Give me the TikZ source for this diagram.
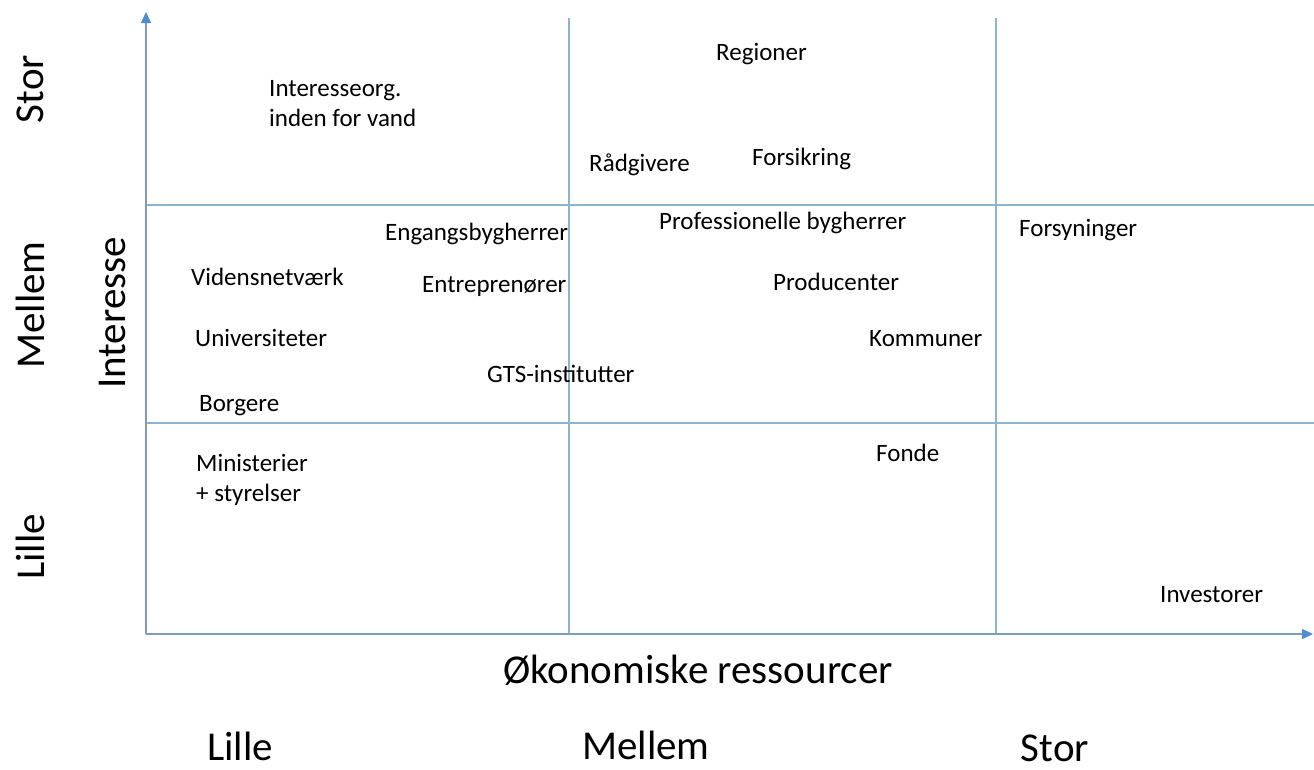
\documentclass[tikz,border=0pt]{standalone}
\usepackage{fontspec}
\setmainfont{Carlito}
\usetikzlibrary{arrows.meta}
\definecolor{gridblue}{HTML}{8DB3D3}
\definecolor{axisgray}{HTML}{7F9DB5}
\definecolor{tipblue}{HTML}{4A8FD6}
\tikzset{
  lbl/.style={anchor=west, inner sep=0pt, font=\fontsize{25}{30}\selectfont, align=left},
  big/.style={inner sep=0pt, font=\fontsize{41}{48}\selectfont},
  gridline/.style={draw=gridblue, line width=1.2pt},
  axis/.style={draw=axisgray, line width=1.4pt, -{Triangle[length=11pt,width=10pt,fill=tipblue,color=tipblue]}},
}
\begin{document}
\begin{tikzpicture}[x=1pt,y=-1pt]
\useasboundingbox (0,0) rectangle (1314,769);
% origin and axis ends
\coordinate (o) at (146,634);
\coordinate (ytop) at (146,12);
\coordinate (xend) at (1313,634);
% grid
\coordinate (v1t) at (569,18);  \coordinate (v1b) at (569,634);
\coordinate (v2t) at (996,18);  \coordinate (v2b) at (996,634);
\coordinate (h1l) at (146,205); \coordinate (h1r) at (1314,205);
\coordinate (h2l) at (146,423); \coordinate (h2r) at (1314,423);
\draw[gridline] (v1t) -- (v1b);
\draw[gridline] (v2t) -- (v2b);
\draw[gridline] (h1l) -- (h1r);
\draw[gridline] (h2l) -- (h2r);
\draw[axis] (o) -- (ytop);
\draw[axis] (o) -- (xend);
% axis titles
\node[big] (xt) at (698,670) {Økonomiske ressourcer};
\node[big] (xl) at (240,746) {Lille};
\node[big] (xm) at (646,745) {Mellem};
\node[big] (xs) at (1055,748) {Stor};
\node[big, rotate=90] (yt) at (112,313) {Interesse};
\node[big, rotate=90] (ys) at (30,89) {Stor};
\node[big, rotate=90] (ym) at (30,305) {Mellem};
\node[big, rotate=90] (yl) at (30,547) {Lille};
% stakeholders
\node[lbl] (reg) at (716,54) {Regioner};
\node[lbl] (org) at (269,104) {Interesseorg.\\inden for vand};
\node[lbl] (raad) at (589,165) {Rådgivere};
\node[lbl] (fors) at (752,159) {Forsikring};
\node[lbl] (eng) at (385,234) {Engangsbygherrer};
\node[lbl] (prof) at (659,223) {Professionelle bygherrer};
\node[lbl] (fsy) at (1019,230) {Forsyninger};
\node[lbl] (vid) at (191,277) {Vidensnetværk};
\node[lbl] (ent) at (422,286) {Entreprenører};
\node[lbl] (prod) at (773,282) {Producenter};
\node[lbl] (uni) at (195,338) {Universiteter};
\node[lbl] (kom) at (869,339) {Kommuner};
\node[lbl] (gts) at (487,374) {GTS-institutter};
\node[lbl] (borg) at (199,406) {Borgere};
\node[lbl] (min) at (196,480) {Ministerier\\+ styrelser};
\node[lbl] (fon) at (876,453) {Fonde};
\node[lbl] (inv) at (1160,595) {Investorer};
\end{tikzpicture}
\end{document}
